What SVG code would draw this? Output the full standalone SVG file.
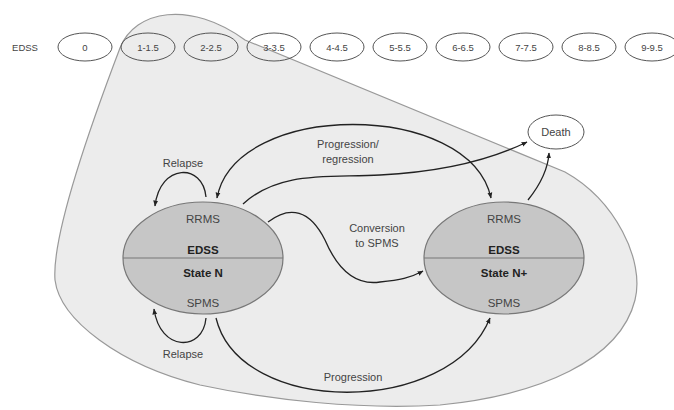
<svg xmlns="http://www.w3.org/2000/svg" width="674" height="410" viewBox="0 0 674 410">
<defs>
<marker id="ah" viewBox="0 0 10 10" refX="9" refY="5" markerWidth="6" markerHeight="6" markerUnits="userSpaceOnUse" orient="auto-start-reverse">
<path d="M0,1 L10,5 L0,9 Z" fill="#222"/>
</marker>
</defs>
<style>
text{font-family:"Liberation Sans",Arial,sans-serif;fill:#444;text-anchor:middle}
.sm{font-size:9.5px}
.lb{font-size:11px}
.st{font-size:11.5px}
.b{font-weight:bold;fill:#222}
.ed{fill:none;stroke:#555;stroke-width:1}
.dt{fill:#fff;stroke:#555;stroke-width:1}
.state{fill:#c6c6c6;stroke:#777;stroke-width:1.2}
.c{fill:none;stroke:#222;stroke-width:1.3}
</style>
<rect width="674" height="410" fill="#fff"/>
<g id="region">
<path d="M120,48 C135,10 190,0 245,40 L565,172 C615,200 645,260 635,300 C620,360 540,395 440,405 C360,410 270,400 200,385 C120,365 60,320 55,280 C52,240 85,140 120,48 Z" fill="#ececec" stroke="#999" stroke-width="1.2"/>
</g>
<g id="edss-scale">
<text class="sm" x="25" y="51">EDSS</text>
<ellipse class="ed" cx="85" cy="47" rx="27" ry="14"/><text class="sm" x="85" y="51">0</text>
<ellipse class="ed" cx="148" cy="47" rx="27" ry="14"/><text class="sm" x="148" y="51">1-1.5</text>
<ellipse class="ed" cx="211" cy="47" rx="27" ry="14"/><text class="sm" x="211" y="51">2-2.5</text>
<ellipse class="ed" cx="274" cy="47" rx="27" ry="14"/><text class="sm" x="274" y="51">3-3.5</text>
<ellipse class="ed" cx="337" cy="47" rx="27" ry="14"/><text class="sm" x="337" y="51">4-4.5</text>
<ellipse class="ed" cx="400" cy="47" rx="27" ry="14"/><text class="sm" x="400" y="51">5-5.5</text>
<ellipse class="ed" cx="463" cy="47" rx="27" ry="14"/><text class="sm" x="463" y="51">6-6.5</text>
<ellipse class="ed" cx="526" cy="47" rx="27" ry="14"/><text class="sm" x="526" y="51">7-7.5</text>
<ellipse class="ed" cx="589" cy="47" rx="27" ry="14"/><text class="sm" x="589" y="51">8-8.5</text>
<ellipse class="ed" cx="652" cy="47" rx="27" ry="14"/><text class="sm" x="652" y="51">9-9.5</text>
</g>
<g id="state-n">
<ellipse class="state" cx="203" cy="258" rx="80" ry="56"/>
<line x1="123" y1="258" x2="283" y2="258" stroke="#777" stroke-width="1.2"/>
<text class="st" x="203" y="223">RRMS</text>
<text class="st b" x="203" y="254">EDSS</text>
<text class="st b" x="203" y="277">State N</text>
<text class="st" x="203" y="307">SPMS</text>
</g>
<g id="state-n-plus">
<ellipse class="state" cx="504" cy="258" rx="80" ry="56"/>
<line x1="424" y1="258" x2="584" y2="258" stroke="#777" stroke-width="1.2"/>
<text class="st" x="504" y="223">RRMS</text>
<text class="st b" x="504" y="254">EDSS</text>
<text class="st b" x="504" y="277">State N+</text>
<text class="st" x="504" y="307">SPMS</text>
</g>
<g id="death">
<ellipse class="dt" cx="556" cy="132" rx="28" ry="17"/>
<text class="lb" x="556" y="136">Death</text>
</g>
<g id="connectors">
<path class="c" d="M206,197 C203,163 160,163 155,206" marker-end="url(#ah)"/>
<path class="c" d="M217,198 C235,100 470,100 491,198" marker-start="url(#ah)" marker-end="url(#ah)"/>
<path class="c" d="M243,204 C280,170 330,178 380,175 C440,172 490,160 527,142" marker-end="url(#ah)"/>
<path class="c" d="M268,222 C290,205 310,210 325,240 C340,275 360,285 380,282 C400,280 410,278 423,271" marker-end="url(#ah)"/>
<path class="c" d="M528,200 C540,185 548,170 549,153" marker-end="url(#ah)"/>
<path class="c" d="M206,318 C203,352 160,352 154,309" marker-end="url(#ah)"/>
<path class="c" d="M216,318 C240,417 450,417 490,318" marker-end="url(#ah)"/>
</g>
<g id="labels">
<text class="lb" x="183" y="167">Relapse</text>
<text class="lb" x="183" y="358">Relapse</text>
<text class="lb" x="348" y="148">Progression/</text>
<text class="lb" x="348" y="163">regression</text>
<text class="lb" x="377" y="232">Conversion</text>
<text class="lb" x="377" y="247">to SPMS</text>
<text class="lb" x="353" y="381">Progression</text>
</g>
</svg>
